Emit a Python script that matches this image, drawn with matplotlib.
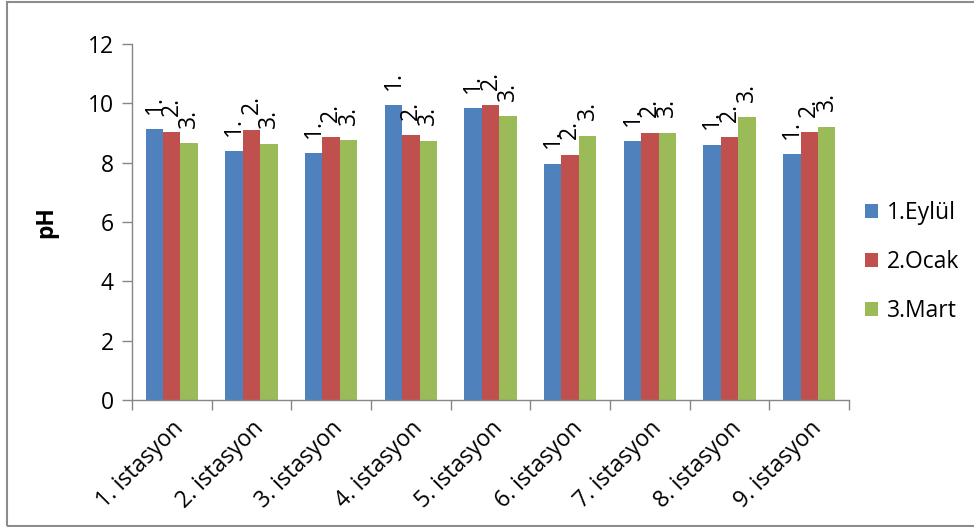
import numpy as np
import matplotlib.pyplot as plt
from matplotlib.patches import Rectangle

plt.rcParams['font.family'] = ['Open Sans', 'DejaVu Sans']

istasyonlar = ["1. istasyon", "2. istasyon", "3. istasyon", "4. istasyon", "5. istasyon",
               "6. istasyon", "7. istasyon", "8. istasyon", "9. istasyon"]
seriler = ["1.Eylül", "2.Ocak", "3.Mart"]
etiketler = ["1.", "2.", "3."]
eylul = [9.13, 8.40, 8.32, 9.95, 9.84, 7.97, 8.73, 8.61, 8.29]
ocak = [9.05, 9.11, 8.87, 8.94, 9.95, 8.27, 9.01, 8.87, 9.02]
mart = [8.67, 8.64, 8.75, 8.74, 9.56, 8.91, 9.01, 9.54, 9.21]
renkler = ["#4F81BD", "#C0504D", "#9BBB59"]
fs = 16.5

fig = plt.figure(figsize=(9.74, 5.27), dpi=100)
ax = fig.add_axes([0.1355, 0.241, 0.7362, 0.6755])

# outer chart frame
fig.patches.append(Rectangle((7 / 974, 1.5 / 527), 1.0, 524 / 527, transform=fig.transFigure,
                             fill=False, edgecolor="#8c8c8c", linewidth=1.5))

x = np.arange(len(istasyonlar))
w = 0.218
for i, (vals, ad, renk, etk) in enumerate(zip([eylul, ocak, mart], seriler, renkler, etiketler)):
    pos = x + (i - 1) * w
    ax.bar(pos, vals, width=w, color=renk, label=ad, edgecolor="none")
    for px, v in zip(pos, vals):
        ax.annotate(etk, (px, v), xytext=(0, 11), textcoords="offset points",
                    rotation=90, ha="center", va="bottom", fontsize=fs)

ax.set_xlim(-0.5, len(istasyonlar) - 0.5)
ax.set_ylim(0, 12)
ax.set_yticks(range(0, 13, 2))
ax.set_xticks(x)
ax.set_xticklabels(istasyonlar, rotation=45, ha="right", rotation_mode="anchor")
ax.set_xticks(np.arange(-0.5, len(istasyonlar), 1), minor=True)
ax.tick_params(axis="x", which="major", length=0, pad=12, labelsize=fs)
ax.tick_params(axis="x", which="minor", length=7, color="#868686", width=1)
ax.tick_params(axis="y", length=7, color="#868686", width=1, labelsize=fs, pad=6)

for s in ["top", "right"]:
    ax.spines[s].set_visible(False)
for s in ["left", "bottom"]:
    ax.spines[s].set_color("#868686")
    ax.spines[s].set_linewidth(1)

ax.set_ylabel("pH", fontsize=fs, fontweight="bold")
ax.yaxis.set_label_coords(-0.103, 0.5)

fig.legend(loc="center left", bbox_to_anchor=(856 / 974, (527 - 262) / 527), frameon=False,
           fontsize=fs, handlelength=0.57, handleheight=0.57, handletextpad=0.38,
           labelspacing=1.1, borderaxespad=0)

fig.savefig("out.png", dpi=100)
